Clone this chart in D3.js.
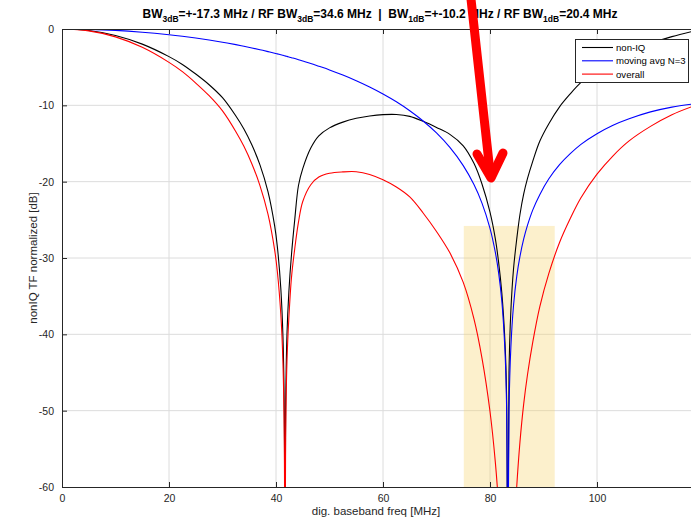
<!DOCTYPE html>
<html><head><meta charset="utf-8">
<script src="https://cdn.jsdelivr.net/npm/d3@7"></script>
<style>
body{margin:0;background:#fff;}
text{font-family:"Liberation Sans",Arial,Helvetica,sans-serif;}
</style></head>
<body><svg id="c" width="691" height="520"></svg>
<script>
const freq = [0,5,10,15,20,22.5,25,27.5,30,32.5,34,35.5,37,38.5,39.75,40.25,40.9,41.3,41.55,41.67,41.8,42.05,42.4,42.9,43.5,44.2,45,46.5,48,50,52.5,55,57.5,60,62.5,65,67.5,70,72.5,75,77,78.5,80,81,81.6,82.2,82.8,83.1,83.33,83.55,83.9,84.4,85,85.6,86.3,87,88,89.3,91,93,95,97,100,103,106,110,114,117.6];
const nonIQ = [0,-0.2,-0.85,-1.98,-3.62,-4.64,-5.9,-7.3,-9.0,-11.4,-13.1,-15.2,-17.8,-21.3,-25.8,-28.5,-34.0,-40.3,-50.3,-80,-50,-40,-34.5,-29.5,-25.0,-20.5,-18.3,-15.6,-14.0,-12.95,-12.2,-11.7,-11.4,-11.22,-11.2,-11.45,-12.1,-12.9,-13.8,-15.3,-17.6,-20.3,-24.0,-27.5,-30.5,-34.5,-41,-48,-80,-45,-36.9,-31.4,-27.5,-24.3,-21.6,-19.6,-17.3,-14.7,-12.4,-10.2,-8.5,-7.0,-5.3,-4.0,-2.9,-1.9,-1.0,-0.35];
const movAvg = [0,-0.05,-0.18,-0.42,-0.75,-0.95,-1.18,-1.44,-1.73,-2.05,-2.26,-2.48,-2.71,-2.96,-3.17,-3.26,-3.38,-3.45,-3.50,-3.52,-3.55,-3.59,-3.66,-3.76,-3.87,-4.02,-4.19,-4.51,-4.87,-5.36,-6.04,-6.78,-7.60,-8.52,-9.54,-10.71,-12.05,-13.62,-15.52,-17.90,-20.38,-22.81,-26.11,-29.27,-31.88,-35.56,-42.2,-49.4,-80,-50.0,-41.7,-36.2,-32.4,-29.8,-27.51,-25.73,-23.69,-21.7,-19.62,-17.77,-16.33,-15.11,-13.72,-12.61,-11.76,-10.86,-10.23,-9.86];
const overall = [0,-0.25,-1.03,-2.40,-4.37,-5.59,-7.08,-8.74,-10.73,-13.45,-15.36,-17.68,-20.51,-24.26,-28.97,-31.76,-37.38,-43.75,-53.8,-83.5,-53.55,-43.59,-37.9,-32.5,-28.8,-25.3,-22.6,-20.4,-19.4,-18.9,-18.72,-18.7,-19.05,-19.75,-20.7,-22.0,-24.1,-26.52,-29.32,-33.2,-37.98,-43.11,-50.11,-56.77,-62.38,-70.06,-83.2,-97.4,-160,-95,-78.6,-67.6,-59.9,-54.1,-49.11,-45.33,-40.99,-36.4,-32.02,-27.97,-24.83,-22.11,-19.02,-16.61,-14.66,-12.76,-11.23,-10.21];
const seriesNames = ["non-IQ","moving avg N=3","overall"];
const seriesColors = ["#000000","#0000ff","#ff0000"];
const xTicks = [0,20,40,60,80,100];
const yTicks = [0,-10,-20,-30,-40,-50,-60];
const band = {x0:75.1, x1:92.1, yTop:-25.8, yBottom:-60};

const svg = d3.select("#c");
const L=62, T=29, B=487;
const x = d3.scaleLinear().domain([0,125]).range([L, L+125*5.35]);
const y = d3.scaleLinear().domain([-60,0]).range([B,T]);
const W = 691;

svg.append("defs").append("clipPath").attr("id","clip")
  .append("rect").attr("x",L).attr("y",T).attr("width",W-L).attr("height",B-T);

// grid
const grid = svg.append("g");
xTicks.filter(d=>d>0).forEach(d=>grid.append("line").attr("x1",x(d)).attr("x2",x(d)).attr("y1",T).attr("y2",B).attr("stroke","#dcdcdc").attr("stroke-width",1));
yTicks.filter(d=>d<0 && d>-60).forEach(d=>grid.append("line").attr("x1",L).attr("x2",W).attr("y1",y(d)).attr("y2",y(d)).attr("stroke","#dcdcdc").attr("stroke-width",1));

// shaded band
svg.append("rect").attr("x",x(band.x0)).attr("y",y(band.yTop))
  .attr("width",x(band.x1)-x(band.x0)).attr("height",y(band.yBottom)-y(band.yTop))
  .attr("fill","#f5d56e").attr("fill-opacity",0.35);

// lines
const gL = svg.append("g").attr("clip-path","url(#clip)");
[nonIQ,movAvg,overall].forEach((vals,i)=>{
  const pts = freq.map((f,j)=>[f,vals[j]]);
  gL.append("path").datum(pts)
    .attr("d",d3.line().x(d=>x(d[0])).y(d=>y(d[1])).curve(d3.curveCatmullRom.alpha(0.5)))
    .attr("fill","none").attr("stroke",seriesColors[i]).attr("stroke-width",1.1);
});

// axes
const ax = svg.append("g").attr("transform",`translate(0,${B})`)
  .call(d3.axisBottom(x).tickValues(xTicks).tickSizeInner(-5).tickSizeOuter(0).tickPadding(8).tickFormat(d=>String(d)));
const ay = svg.append("g").attr("transform",`translate(${L},0)`)
  .call(d3.axisLeft(y).tickValues(yTicks).tickSizeInner(-5).tickSizeOuter(0).tickPadding(8).tickFormat(d=>String(d)));
const axTop = svg.append("g").attr("transform",`translate(0,${T})`)
  .call(d3.axisTop(x).tickValues(xTicks).tickSizeInner(-5).tickSizeOuter(0).tickFormat(""));
[ax,ay,axTop].forEach(g=>{
  g.selectAll("path").attr("stroke","#262626").attr("stroke-width",1);
  g.selectAll("line").attr("stroke","#262626");
  g.selectAll("text").attr("fill","#262626").style("font-size","10.5px");
});
ax.select(".domain").attr("d",`M${L},0.5H${W}`);
axTop.select(".domain").attr("d",`M${L},0.5H${W}`);

// labels
svg.append("text").attr("x",376).attr("y",515).attr("text-anchor","middle")
  .style("font-size","11.5px").attr("fill","#262626").text("dig. baseband freq [MHz]");
svg.append("text").attr("transform","translate(37,258) rotate(-90)").attr("text-anchor","middle")
  .style("font-size","11.5px").attr("fill","#262626").text("nonIQ TF normalized [dB]");

// title
const title = svg.append("text").attr("x",380).attr("y",18).attr("text-anchor","middle")
  .style("font-size","12px").style("font-weight","bold").attr("fill","#000");
const parts = [["BW",0],["3dB",1],["=+-17.3 MHz / RF BW",0],["3dB",1],["=34.6 MHz  |  BW",0],["1dB",1],["=+-10.2 MHz / RF BW",0],["1dB",1],["=20.4 MHz",0]];
parts.forEach(([t,sub],i)=>{
  const ts = title.append("tspan").text(t).attr("xml:space","preserve").style("white-space","pre");
  if(sub){ ts.style("font-size","8.5px").attr("dy",4); }
  else if(i>0){ ts.attr("dy",-4); }
});

// legend
const lg = svg.append("g");
lg.append("rect").attr("x",575.5).attr("y",39.5).attr("width",113).attr("height",43)
  .attr("fill","#fff").attr("stroke","#262626").attr("stroke-width",1);
seriesNames.forEach((n,i)=>{
  const yy = 47.5 + i*13.3;
  lg.append("line").attr("x1",582).attr("x2",613).attr("y1",yy).attr("y2",yy).attr("stroke",seriesColors[i]).attr("stroke-width",1.1);
  lg.append("text").attr("x",616).attr("y",yy+3.5).style("font-size","9.6px").attr("fill","#000").text(n);
});

// red arrow annotation
const arrow = svg.append("g").attr("fill","none").attr("stroke","#ff0000").attr("stroke-width",9).attr("stroke-linecap","round").attr("stroke-linejoin","round");
arrow.append("path").attr("d","M470,-10 L490,172");
arrow.append("path").attr("d","M477,154 L491,178 L503,153");
</script></body></html>
